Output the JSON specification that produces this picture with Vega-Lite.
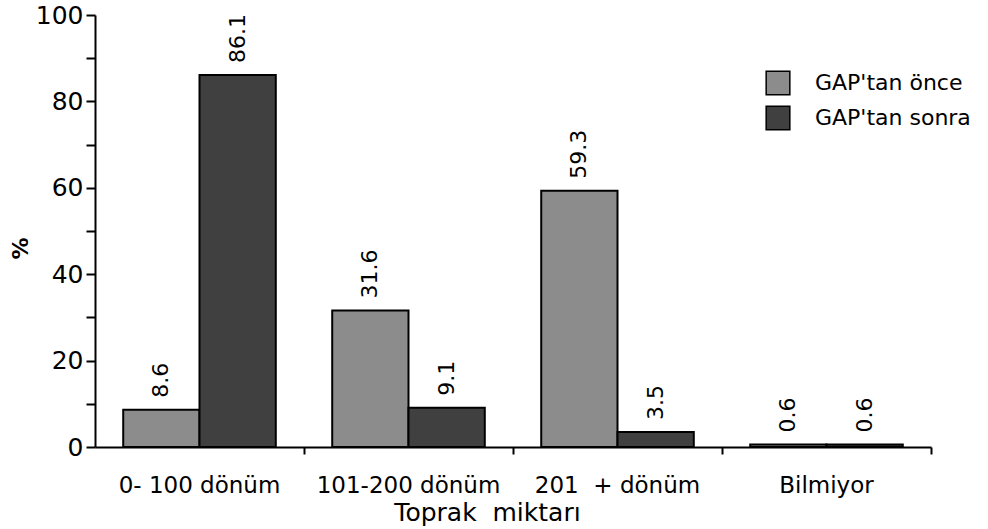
{
  "$schema": "https://vega.github.io/schema/vega-lite/v6.json",
  "width": 836,
  "height": 432,
  "autosize": "none",
  "padding": {"left": 95, "top": 15, "right": 57, "bottom": 82},
  "config": {"view": {"stroke": null}, "font": "DejaVu Sans"},
  "data": {
    "values": [
      {"kategori": "0- 100 dönüm", "donem": "GAP'tan önce", "yuzde": 8.6},
      {"kategori": "0- 100 dönüm", "donem": "GAP'tan sonra", "yuzde": 86.1},
      {"kategori": "101-200 dönüm", "donem": "GAP'tan önce", "yuzde": 31.6},
      {"kategori": "101-200 dönüm", "donem": "GAP'tan sonra", "yuzde": 9.1},
      {"kategori": "201\u00a0\u00a0+ dönüm", "donem": "GAP'tan önce", "yuzde": 59.3},
      {"kategori": "201\u00a0\u00a0+ dönüm", "donem": "GAP'tan sonra", "yuzde": 3.5},
      {"kategori": "Bilmiyor", "donem": "GAP'tan önce", "yuzde": 0.6},
      {"kategori": "Bilmiyor", "donem": "GAP'tan sonra", "yuzde": 0.6}
    ]
  },
  "encoding": {
    "x": {
      "field": "kategori",
      "type": "nominal",
      "sort": ["0- 100 dönüm", "101-200 dönüm", "201\u00a0\u00a0+ dönüm", "Bilmiyor"],
      "scale": {"paddingInner": 0.27, "paddingOuter": 0.135},
      "axis": {
        "title": "Toprak\u00a0\u00a0miktarı",
        "titleFontSize": 25,
        "titleFontWeight": "normal",
        "titleColor": "black",
        "titleX": 392,
        "titleY": 73,
        "titleBaseline": "alphabetic",
        "labelAngle": 0,
        "labelFontSize": 23,
        "labelColor": "black",
        "labelBaseline": "alphabetic",
        "labelPadding": 38,
        "labelLimit": 400,
        "labelOverlap": false,
        "domainColor": "black",
        "domainWidth": 2,
        "tickColor": "black",
        "tickWidth": 2,
        "tickSize": 7,
        "bandPosition": 1.185
      }
    },
    "xOffset": {"field": "donem", "sort": ["GAP'tan önce", "GAP'tan sonra"]},
    "y": {
      "field": "yuzde",
      "type": "quantitative",
      "scale": {"domain": [0, 100], "nice": false},
      "axis": {
        "title": "%",
        "titleFontSize": 22,
        "titleFontWeight": "bold",
        "titleColor": "black",
        "titleAngle": 270,
        "titleBaseline": "middle",
        "titleAlign": "center",
        "titleX": -75,
        "titleY": 233,
        "values": [0, 10, 20, 30, 40, 50, 60, 70, 80, 90, 100],
        "labelExpr": "datum.value % 20 == 0 ? datum.label : ''",
        "labelFontSize": 25,
        "labelColor": "black",
        "labelPadding": 3,
        "domainColor": "black",
        "domainWidth": 2,
        "tickColor": "black",
        "tickWidth": 2,
        "tickSize": 9,
        "grid": false
      }
    }
  },
  "layer": [
    {
      "mark": {"type": "bar", "stroke": "black", "strokeWidth": 2},
      "encoding": {
        "color": {
          "field": "donem",
          "type": "nominal",
          "sort": ["GAP'tan önce", "GAP'tan sonra"],
          "scale": {"domain": ["GAP'tan önce", "GAP'tan sonra"], "range": ["#8c8c8c", "#404040"]},
          "legend": {
            "title": null,
            "orient": "none",
            "legendX": 670,
            "legendY": 55,
            "symbolType": "square",
            "symbolSize": 560,
            "symbolStrokeColor": "black",
            "symbolStrokeWidth": 1.5,
            "symbolOpacity": 1,
            "labelFontSize": 22,
            "labelColor": "black",
            "labelOffset": 24,
            "rowPadding": 5
          }
        }
      }
    },
    {
      "mark": {"type": "text", "angle": 270, "align": "left", "baseline": "middle", "dx": 12, "fontSize": 22, "color": "black"},
      "encoding": {"text": {"field": "yuzde", "type": "quantitative", "format": ".1f"}}
    }
  ]
}
